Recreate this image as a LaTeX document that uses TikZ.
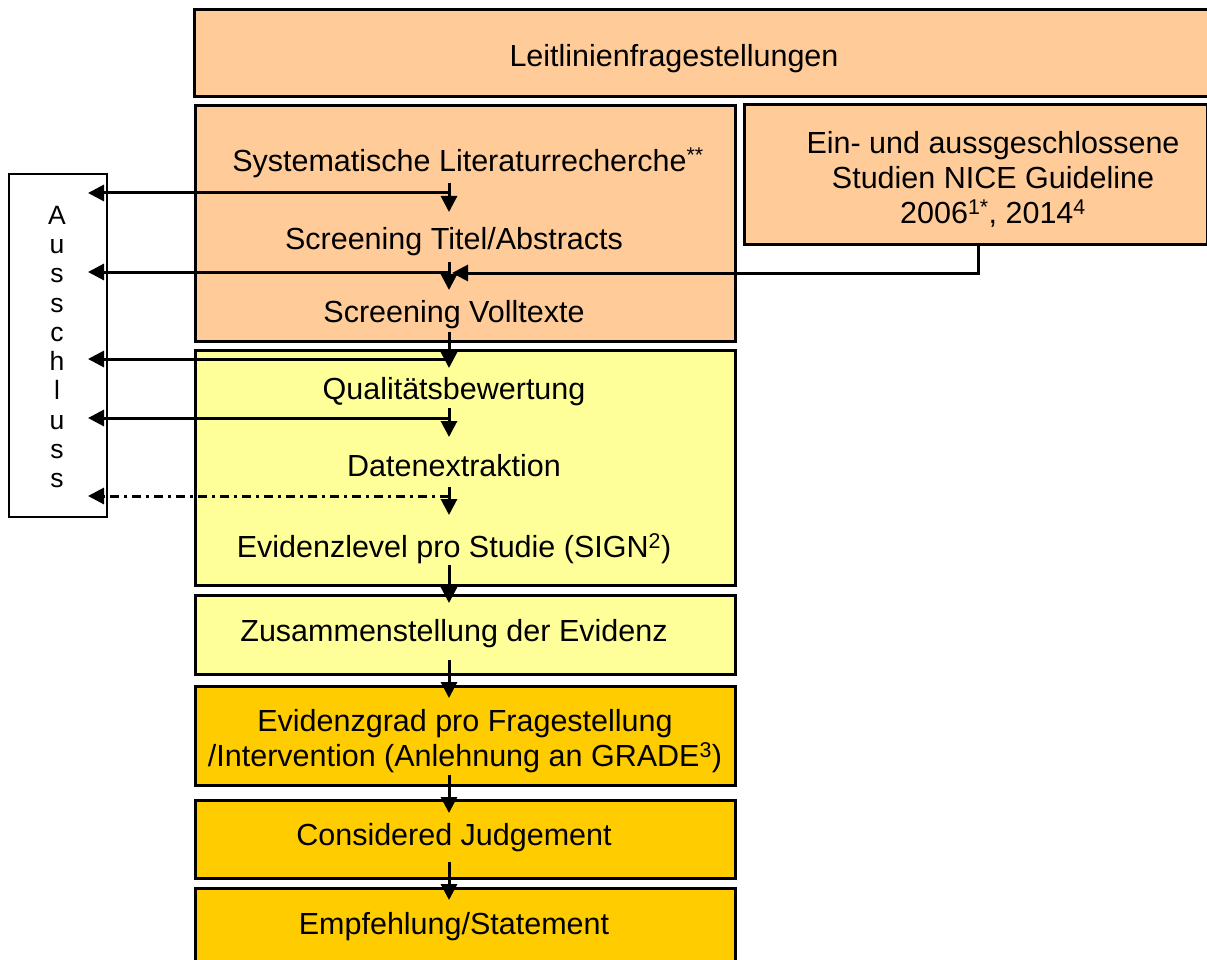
\documentclass[tikz,border=0pt]{standalone}
\usepackage{fontspec}
\setmainfont{Liberation Sans}
\usetikzlibrary{arrows.meta}
\definecolor{peach}{HTML}{FFCC99}
\definecolor{lyellow}{HTML}{FFFF99}
\definecolor{gold}{HTML}{FFCC00}
\begin{document}
\begin{tikzpicture}[x=1pt,y=-1pt,
  box/.style={draw=black, line width=3pt, inner sep=0pt, anchor=north west},
  lbl/.style={font=\fontsize{30.5}{35}\selectfont, inner sep=0pt, align=center, text depth=0pt},
  flow/.style={line width=3pt, -{Triangle[length=16pt,width=16pt]}},
  side/.style={line width=3pt, -{Triangle[length=16pt,width=16pt]}}
]
\useasboundingbox (0,0) rectangle (1207,960);
% boxes
\node[box, fill=peach, minimum width=1030, minimum height=87] (top) at (193,8) {};
\node[box, fill=peach, minimum width=540, minimum height=236] (search) at (194,104) {};
\node[box, fill=peach, minimum width=463, minimum height=140] (nice) at (743,103) {};
\node[box, fill=lyellow, minimum width=540, minimum height=235] (qual) at (194,349) {};
\node[box, fill=lyellow, minimum width=540, minimum height=79] (zus) at (194,594) {};
\node[box, fill=gold, minimum width=540, minimum height=99] (grad) at (194,685) {};
\node[box, fill=gold, minimum width=540, minimum height=78] (cj) at (194,799) {};
\node[box, fill=gold, minimum width=540, minimum height=90] (emp) at (194,887) {};
\node[draw=black, line width=2.2pt, minimum width=98, minimum height=343, anchor=north west, inner sep=0pt] (aus) at (8,173) {};
% texts
\node[lbl] (tLeit) at (674,55) {Leitlinienfragestellungen};
\node[lbl] (tSys) at (468,160) {Systematische Literaturrecherche\textsuperscript{**}};
\node[lbl] (tTit) at (454,238) {Screening Titel/Abstracts};
\node[lbl] (tVoll) at (454,311) {Screening Volltexte};
\node[lbl] (tQual) at (454,388) {Qualitätsbewertung};
\node[lbl] (tDat) at (454,465) {Datenextraktion};
\node[lbl] (tEvl) at (454,546) {Evidenzlevel pro Studie (SIGN\textsuperscript{2})};
\node[lbl] (tZus) at (454,630) {Zusammenstellung der Evidenz};
\node[lbl] (tGrad) at (465,738) {Evidenzgrad pro Fragestellung\\/Intervention (Anlehnung an GRADE\textsuperscript{3})};
\node[lbl] (tCJ) at (454,834) {Considered Judgement};
\node[lbl] (tEmp) at (454,923) {Empfehlung/Statement};
\node[lbl] (tNice) at (993,177) {Ein- und aussgeschlossene\\Studien NICE Guideline\\2006\textsuperscript{1*}, 2014\textsuperscript{4}};
\node[font=\fontsize{26.5}{29.3}\selectfont, inner sep=0pt, align=center] (tAus) at (57,347) {A\\u\\s\\s\\c\\h\\l\\u\\s\\s};
% exclusion targets
\coordinate (x1) at (88,193);
\coordinate (x2) at (88,272);
\coordinate (x3) at (88,359);
\coordinate (x4) at (88,418);
\coordinate (x5) at (88,496);
% flow arrows
\draw[flow] (449,183) coordinate (a1) -- (449,212);
\draw[flow] (449,262) coordinate (a2) -- (449,290);
\draw[flow] (449,332) coordinate (a3) -- (449,368);
\draw[flow] (449,408) coordinate (a4) -- (449,437);
\draw[flow] (449,487) coordinate (a5) -- (449,515);
\draw[flow] (449,565) -- (449,603);
\draw[flow] (449,660) -- (449,698);
\draw[flow] (449,775) -- (449,813);
\draw[flow] (449,862) -- (449,900);
% exclusion arrows
\draw[side] (a1 |- x1) -- (x1);
\draw[side] (a2 |- x2) -- (x2);
\draw[side] (a3 |- x3) -- (x3);
\draw[side] (a4 |- x4) -- (x4);
\draw[side, dash pattern=on 9pt off 5pt on 3pt off 5pt] (a5 |- x5) -- (x5);
% NICE connector
\coordinate (nj) at (978,273);
\draw[side] (nice.south -| nj) -- (nj) -- (452,273);
\end{tikzpicture}
\end{document}
